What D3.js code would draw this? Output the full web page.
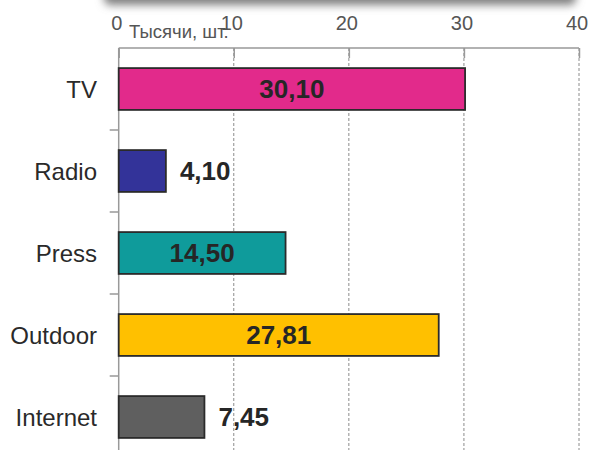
<!DOCTYPE html>
<html>
<head>
<meta charset="utf-8">
<script src="https://cdn.jsdelivr.net/npm/d3@7"></script>
<style>
  body { margin: 0; background: #fff; }
  svg { display: block; font-family: "Liberation Sans", Arial, sans-serif; }
</style>
</head>
<body>
<div id="chart"></div>
<script>
// Media channels and their counts (thousands)
const categories = ["TV", "Radio", "Press", "Outdoor", "Internet"];
const values = [30.10, 4.10, 14.50, 27.81, 7.45];
const barColors = ["#e22a8b", "#333399", "#0f9b9b", "#ffc000", "#5f5f5f"];
const xTicks = [0, 10, 20, 30, 40];
const unitLabel = "Тысячи, шт.";

const width = 590, height = 450;
const x0 = 118.7, x1 = 579, topY = 48, step = 82;

const svg = d3.select("#chart").append("svg")
    .attr("width", width)
    .attr("height", height);

// soft shadow of the box above the chart
const defs = svg.append("defs");
defs.append("filter").attr("id", "blur")
    .attr("x", "-10%").attr("y", "-100%").attr("width", "120%").attr("height", "300%")
  .append("feGaussianBlur").attr("stdDeviation", 4);
svg.append("rect")
    .attr("x", 104).attr("y", -30)
    .attr("width", 472).attr("height", 35)
    .attr("rx", 6)
    .style("fill", "#808080")
    .attr("filter", "url(#blur)");

const x = d3.scaleLinear().domain([0, 40]).range([x0, x1]);
const y = d3.scaleBand().domain(categories)
    .range([topY, topY + step * categories.length])
    .paddingInner(0.49).paddingOuter(0.245);

// dashed gridlines
svg.selectAll(".grid")
    .data(xTicks.slice(1))
    .enter().append("line")
    .attr("x1", d => x(d)).attr("x2", d => x(d))
    .attr("y1", topY).attr("y2", height)
    .style("stroke", "#8c8c8c")
    .style("stroke-width", 1)
    .style("stroke-dasharray", "3,2");

// top axis
const xAxis = svg.append("g")
    .attr("transform", `translate(0,${topY})`)
    .call(d3.axisBottom(x).tickValues(xTicks).tickSize(10).tickFormat(""));
xAxis.select(".domain").remove();
xAxis.selectAll(".tick line").style("stroke", "#999").style("stroke-width", 1.5);
svg.append("line")
    .attr("x1", x0).attr("x2", x1).attr("y1", topY).attr("y2", topY)
    .style("stroke", "#999").style("stroke-width", 1.5);

svg.selectAll(".xlabel")
    .data(xTicks)
    .enter().append("text")
    .attr("x", d => x(d) - 2)
    .attr("y", 30)
    .style("text-anchor", "middle")
    .style("font-size", "20px")
    .style("fill", "#555")
    .text(d => d);

svg.append("text")
    .attr("x", 129).attr("y", 38)
    .style("font-size", "18.5px")
    .style("fill", "#555")
    .text(unitLabel);

// left axis
svg.append("line")
    .attr("x1", x0).attr("x2", x0).attr("y1", topY).attr("y2", height)
    .style("stroke", "#999").style("stroke-width", 1.5);
svg.selectAll(".ytick")
    .data(categories.slice(1))
    .enter().append("line")
    .attr("x1", x0 - 9).attr("x2", x0)
    .attr("y1", d => y(d) - y.step() * y.paddingInner() / 2)
    .attr("y2", d => y(d) - y.step() * y.paddingInner() / 2)
    .style("stroke", "#999").style("stroke-width", 1.5);

svg.selectAll(".ylabel")
    .data(categories)
    .enter().append("text")
    .attr("x", 97)
    .attr("y", d => y(d) + y.bandwidth() / 2)
    .attr("dy", "0.36em")
    .style("text-anchor", "end")
    .style("font-size", "24px")
    .style("fill", "#2a2a2a")
    .text(d => d);

// bars
svg.selectAll(".bar")
    .data(categories)
    .enter().append("rect")
    .attr("x", x(0))
    .attr("y", d => y(d))
    .attr("width", (d, i) => x(values[i]) - x(0))
    .attr("height", y.bandwidth())
    .style("fill", (d, i) => barColors[i])
    .style("stroke", "#2b2b2b")
    .style("stroke-width", 1.8);

const fmt = v => v.toFixed(2).replace(".", ",");
svg.selectAll(".value")
    .data(categories)
    .enter().append("text")
    .attr("x", (d, i) => values[i] >= 10 ? (x(0) + x(values[i])) / 2 : x(values[i]) + 14)
    .attr("y", d => y(d) + y.bandwidth() / 2)
    .attr("dy", "0.36em")
    .style("text-anchor", (d, i) => values[i] >= 10 ? "middle" : "start")
    .style("font-size", "26px")
    .style("font-weight", "bold")
    .style("fill", "#262626")
    .text((d, i) => fmt(values[i]));
</script>
</body>
</html>
